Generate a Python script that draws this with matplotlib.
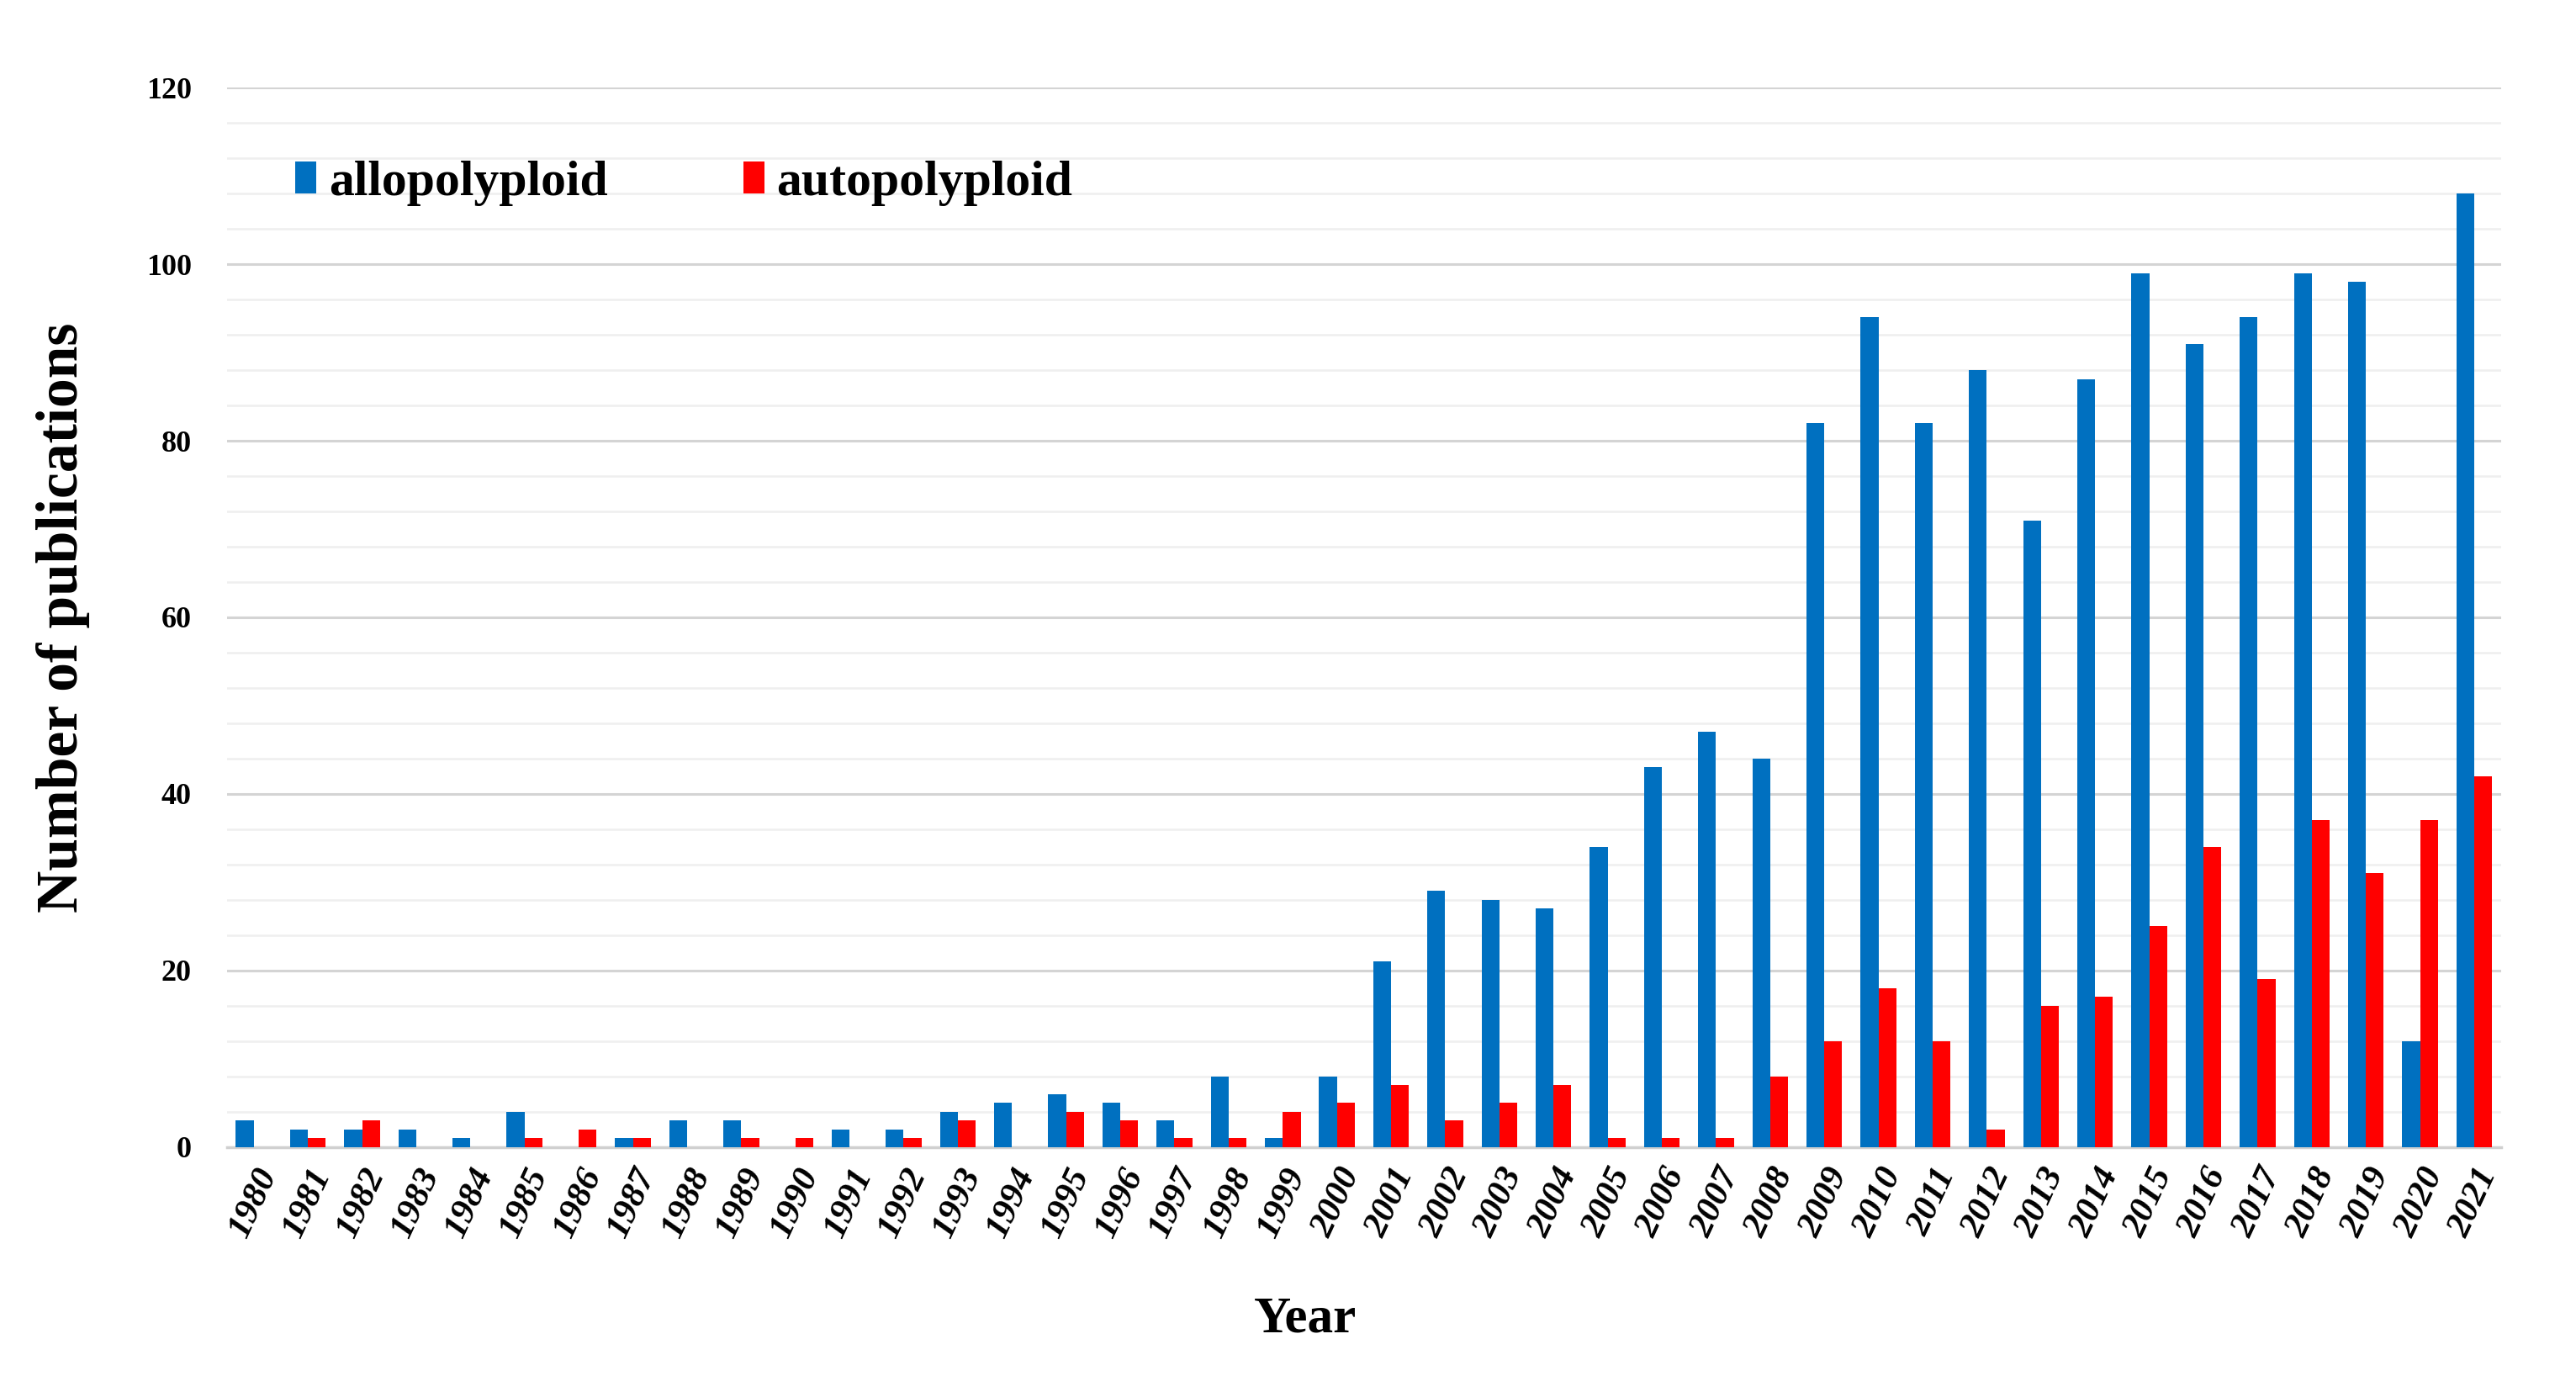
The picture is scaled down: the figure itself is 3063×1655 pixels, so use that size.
import matplotlib

matplotlib.use("Agg")
import matplotlib.pyplot as plt
import numpy as np
from matplotlib.ticker import MultipleLocator

plt.rcParams["font.family"] = ["Liberation Serif", "DejaVu Serif"]
plt.rcParams["font.weight"] = "bold"

# ── Data ──────────────────────────────────────────────────
YEARS = list(range(1980, 2022))
ALLO = [3, 2, 2, 2, 1, 4, 0, 1, 3, 3, 0, 2, 2, 4, 5, 6, 5, 3, 8, 1, 8,
        21, 29, 28, 27, 34, 43, 47, 44, 82, 94, 82, 88, 71, 87, 99, 91, 94, 99, 98, 12, 108]
AUTO = [0, 1, 3, 0, 0, 1, 2, 1, 0, 1, 1, 0, 1, 3, 0, 4, 3, 1, 1, 4, 5,
        7, 3, 5, 7, 1, 1, 1, 8, 12, 18, 12, 2, 16, 17, 25, 34, 19, 37, 31, 37, 42]
LABELS = ["allopolyploid", "autopolyploid"]
COLORS = ["#0070C0", "#FF0000"]

fig = plt.figure(figsize=(30.63, 16.55), dpi=100)
ax = fig.add_axes([0.088, 0.176, 0.883, 0.761])

x = np.arange(len(YEARS))
w = 0.33
ax.bar(x - w / 2, ALLO, w, color=COLORS[0], label=LABELS[0], zorder=3)
ax.bar(x + w / 2, AUTO, w, color=COLORS[1], label=LABELS[1], zorder=3)

ax.set_xlim(-0.5, len(YEARS) - 0.5)
ax.set_ylim(0, 120)
ax.yaxis.set_major_locator(MultipleLocator(20))
ax.yaxis.set_minor_locator(MultipleLocator(4))
ax.grid(axis="y", which="major", color="#d4d4d4", linewidth=2.2, zorder=0)
ax.grid(axis="y", which="minor", color="#efefef", linewidth=1.8, zorder=0)

for s in ["top", "right", "left"]:
    ax.spines[s].set_visible(False)
ax.spines["bottom"].set_color("#d0d0d0")
ax.spines["bottom"].set_linewidth(2.5)
ax.tick_params(axis="both", which="both", length=0)
ax.tick_params(axis="y", labelsize=26, pad=30)

ax.set_xticks(x)
ax.set_xticklabels([str(y) for y in YEARS], rotation=65, fontsize=31,
                   fontstyle="italic", ha="center", va="top")
ax.tick_params(axis="x", pad=14)

ax.set_ylabel("Number of publications", fontsize=50, fontweight="bold", labelpad=48)
ax.set_xlabel("Year", fontsize=44, fontweight="bold")
ax.xaxis.set_label_coords(0.474, -0.14)

ax.legend(loc="center left", bbox_to_anchor=(0.03, 0.91), ncol=2, frameon=False,
          fontsize=43, handlelength=0.42, handleheight=0.6, handletextpad=0.25,
          columnspacing=2.7, borderpad=0, borderaxespad=0)

fig.savefig("out.png", dpi=100)
